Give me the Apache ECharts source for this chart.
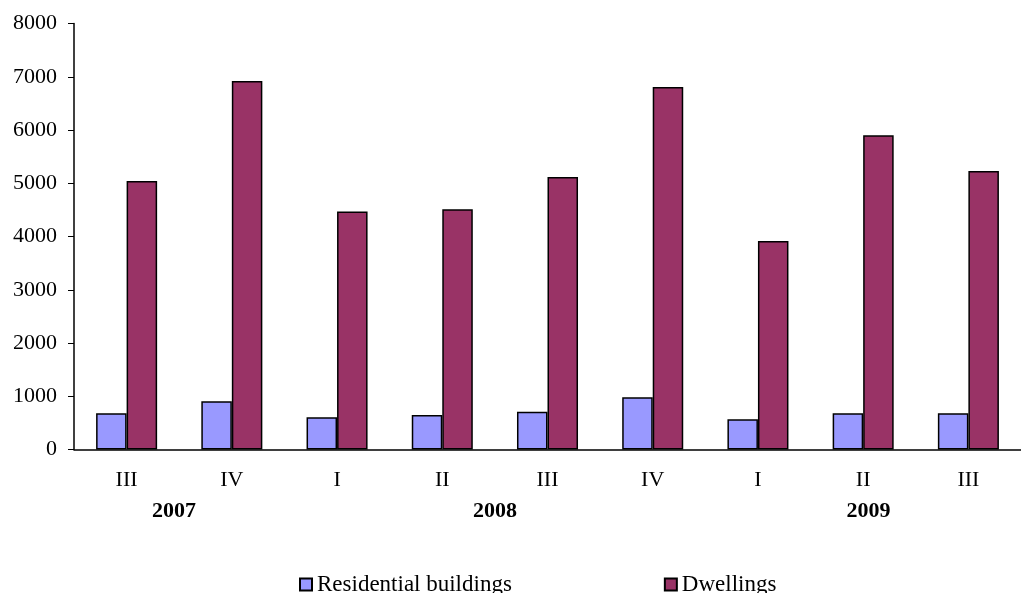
<!DOCTYPE html>
<html><head><meta charset="utf-8">
<script src="https://cdn.jsdelivr.net/npm/echarts@6/dist/echarts.min.js"></script>
<style>html,body{margin:0;padding:0;background:#fff}#c{width:1021px;height:593px}</style>
</head><body><div id="c"></div>
<script>
const quarters = ['III','IV','I','II','III','IV','I','II','III'];
const years = ['2007','2008','2009'];
const yearCenters = [0.95, 4.0, 7.55];
const residential = [680, 905, 605, 648, 710, 980, 567, 680, 680];
const dwellings = [5040, 6920, 4470, 4510, 5117, 6808, 3915, 5900, 5230];
const yTicks = [0,1000,2000,3000,4000,5000,6000,7000,8000];

const font = '"Liberation Serif", "Times New Roman", serif';
const chart = echarts.init(document.getElementById('c'));
chart.setOption({
  animation: false,
  backgroundColor: '#fff',
  textStyle: {fontFamily: font},
  grid: {left: 74, top: 23.5, height: 426, width: 961, containLabel: false},
  legend: {
    left: 294, top: 568, itemWidth: 12, itemHeight: 12, itemGap: 152, icon: 'rect',
    textStyle: {fontFamily: font, fontSize: 23, color: '#000'},
    data: ['Residential buildings','Dwellings']
  },
  xAxis: [{
    type: 'category', data: quarters,
    axisLine: {lineStyle: {color: '#000', width: 1.5}},
    axisTick: {lineStyle: {color: '#000'}, length: 6, alignWithLabel: false},
    axisLabel: {fontFamily: font, fontSize: 22, color: '#000', margin: 20}
  }, {
    type: 'value', position: 'bottom', min: 0, max: 9, interval: 0.05,
    axisLine: {show: false}, axisTick: {show: false}, splitLine: {show: false},
    axisLabel: {
      fontFamily: font, fontSize: 22, fontWeight: 'bold', color: '#000', margin: 51,
      showMinLabel: false, showMaxLabel: false,
      formatter: function (v) {
        for (let i = 0; i < yearCenters.length; i++) {
          if (Math.abs(v - yearCenters[i]) < 0.001) return years[i];
        }
        return '';
      }
    }
  }],
  yAxis: {
    type: 'value', min: 0, max: 8000, interval: 1000,
    axisLine: {show: true, lineStyle: {color: '#000', width: 1.5}},
    axisTick: {show: true, length: 6, lineStyle: {color: '#000'}},
    splitLine: {show: false},
    axisLabel: {fontFamily: font, fontSize: 22, color: '#000', margin: 17,
      formatter: function (v) { return yTicks.indexOf(v) >= 0 ? String(v) : ''; }}
  },
  series: [{
    name: 'Residential buildings', type: 'bar', data: residential, xAxisIndex: 0,
    barWidth: '29%', barGap: '0%',
    itemStyle: {color: '#9999FF', borderColor: '#000', borderWidth: 1.5}
  }, {
    name: 'Dwellings', type: 'bar', data: dwellings, xAxisIndex: 0,
    barWidth: '29%', barGap: '0%',
    itemStyle: {color: '#993366', borderColor: '#000', borderWidth: 1.5}
  }]
});
</script></body></html>
